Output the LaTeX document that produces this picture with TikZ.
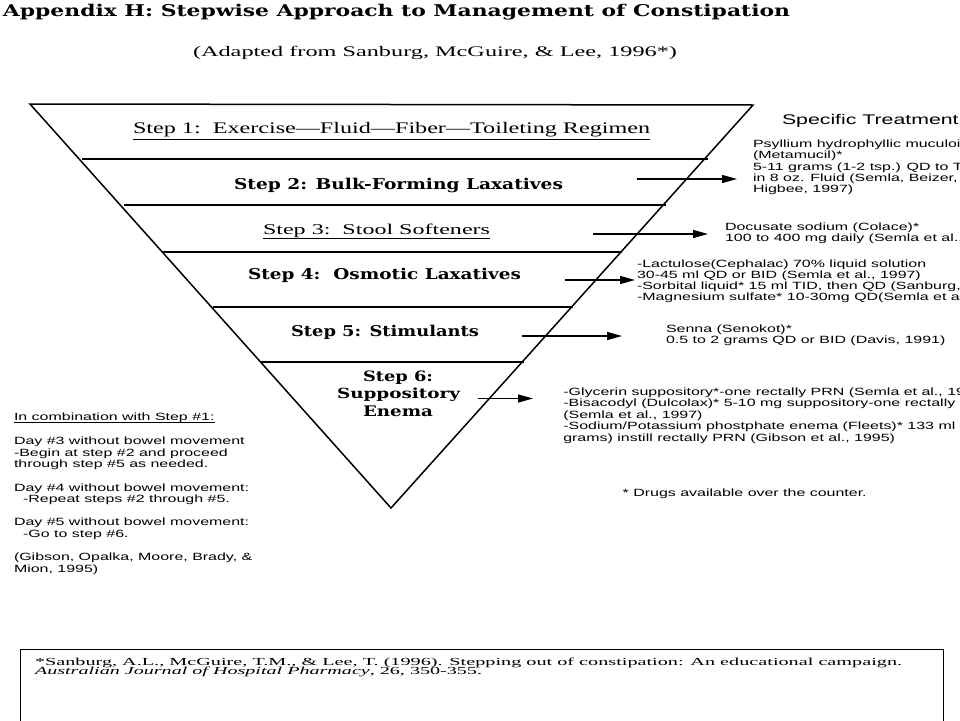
\documentclass[tikz,border=0pt]{standalone}
\usepackage{fontspec}
\setmainfont{Liberation Serif}
\setsansfont{Liberation Sans}
\newfontfamily\dejaserif{DejaVu Serif}
\usepackage{graphicx}
\usetikzlibrary{arrows.meta}
\newcommand\RB[3]{\resizebox{#1pt}{#2pt}{#3}}
\newcommand\SX[1]{\scalebox{1.52}[1]{#1}}
\newcommand\blk[1]{\SX{\begin{tabular}[t]{@{}l@{}}#1\end{tabular}}}
\begin{document}
\begin{tikzpicture}[x=1pt,y=-1pt,
  txt/.style={inner sep=0pt,outer sep=0pt,anchor=base west},
  edgeline/.style={line width=1.5pt},
  arr/.style={line width=1.3pt,-{Triangle[length=15pt,width=8pt]}},
  ar/.style={font=\sffamily\fontsize{10.5}{#1}\selectfont},
  ar/.default={11.4}
]
\fill[white] (0,0) rectangle (960,720);
\useasboundingbox (0,0) rectangle (960,720);

% inverted triangle
\coordinate (TL) at (30,104);
\coordinate (TR) at (753,105);
\coordinate (AP) at (391,508);
\draw[edgeline,line join=miter] (TL) -- (TR) -- (AP) -- cycle;
\draw[edgeline] (82,159) -- (708,159);
\draw[edgeline] (124,205) -- (666,205);
\draw[edgeline] (162,252) -- (622,252);
\draw[edgeline] (213,307) -- (573,307);
\draw[edgeline] (261,362) -- (524,362);

% title
\node[txt] (title) at (3,16.5) {\RB{787}{12.3}{\dejaserif\bfseries Appendix H: Stepwise Approach to Management of Constipation}};
\node[txt] (subtitle) at (193,56.7) {\RB{484}{10.3}{(Adapted from Sanburg, McGuire, \& Lee, 1996*)}};

% steps
\node[txt] (s1) at (133,133) {\RB{517}{11.2}{Step 1:\ \ Exercise—Fluid—Fiber—Toileting Regimen}};
\draw[line width=1pt] ([yshift=-6pt]s1.base west) -- ([yshift=-6pt]s1.base east);
\node[txt] (s2) at (234,189) {\RB{329}{11.3}{\dejaserif\bfseries Step 2: Bulk-Forming Laxatives}};
\node[txt] (s3) at (263,234) {\RB{227}{10.5}{Step 3:\ \ Stool Softeners}};
\draw[line width=1pt] ([yshift=-4.5pt]s3.base west) -- ([yshift=-4.5pt]s3.base east);
\node[txt] (s4) at (248,279) {\RB{273}{11.3}{\dejaserif\bfseries Step 4:\ \ Osmotic Laxatives}};
\node[txt] (s5) at (291,336) {\RB{188}{11.3}{\dejaserif\bfseries Step 5: Stimulants}};
\node[txt] (s6a) at (363,381.7) {\RB{70}{10.6}{\dejaserif\bfseries Step 6:}};
\node[txt] (s6b) at (337,398.3) {\RB{123}{10.6}{\dejaserif\bfseries Suppository}};
\node[txt] (s6c) at (363,416.7) {\RB{70}{10.6}{\dejaserif\bfseries Enema}};

% arrows
\coordinate (a1s) at (637,179); \coordinate (a1e) at (737,179);
\coordinate (a2s) at (593,234); \coordinate (a2e) at (708,234);
\coordinate (a3s) at (565,280); \coordinate (a3e) at (635,280);
\coordinate (a4s) at (522,336); \coordinate (a4e) at (622,336);
\coordinate (a5s) at (478,398.5); \coordinate (a5e) at (533,398.5);
\draw[arr] (a1s) -- (a1e);
\draw[arr] (a2s) -- (a2e);
\draw[arr] (a3s) -- (a3e);
\draw[arr] (a4s) -- (a4e);
\draw[arr] (a5s) -- (a5e);

% treatments
\node[txt,font=\sffamily\fontsize{14}{16}\selectfont] (spec) at (782,124.3) {\SX{Specific Treatment}};
\node[txt,ar=11.35] (psyl) at (753,147.3) {\blk{Psyllium hydrophyllic muculoid\\(Metamucil)*\\5-11 grams (1-2 tsp.) QD to T\\in 8 oz. Fluid (Semla, Beizer,\\Higbee, 1997)}};
\node[txt,ar=10.6] (docu) at (725,230.3) {\blk{Docusate sodium (Colace)*\\100 to 400 mg daily (Semla et al.,}};
\node[txt,ar=11.1] (lact) at (637,267.3) {\blk{-Lactulose(Cephalac) 70\% liquid solution\\30-45 ml QD or BID (Semla et al., 1997)\\-Sorbital liquid* 15 ml TID, then QD (Sanburg,\\-Magnesium sulfate* 10-30mg QD(Semla et al}};
\node[txt,ar=10.7] (senna) at (666,332.3) {\blk{Senna (Senokot)*\\0.5 to 2 grams QD or BID (Davis, 1991)}};
\node[txt,ar=11.5] (glyc) at (563.3,395) {\blk{-Glycerin suppository*-one rectally PRN (Semla et al., 19\\-Bisacodyl (Dulcolax)* 5-10 mg suppository-one rectally\\(Semla et al., 1997)\\-Sodium/Potassium phostphate enema (Fleets)* 133 ml\\grams) instill rectally PRN (Gibson et al., 1995)}};
\node[txt,ar] (otc) at (622.7,496.7) {\SX{* Drugs available over the counter.}};

% left notes
\node[txt,ar=11.3] (comb) at (14,420.7) {\SX{In combination with Step \#1:}};
\draw[line width=0.8pt] ([yshift=-2pt]comb.base west) -- ([yshift=-2pt]comb.base east);
\node[txt,ar=11.3] (days) at (14,444.7) {\blk{Day \#3 without bowel movement\\-Begin at step \#2 and proceed\\through step \#5 as needed.\\[12.7pt]Day \#4 without bowel movement:\\\hspace*{6pt}-Repeat steps \#2 through \#5.\\[12pt]Day \#5 without bowel movement:\\\hspace*{6pt}-Go to step \#6.\\[12.3pt](Gibson, Opalka, Moore, Brady, \&\\Mion, 1995)}};

% reference box
\draw[line width=1pt] (20,724) -- (20,649) -- (943,649) -- (943,724);
\node[txt] (ref1) at (35,665) {\RB{867}{7.6}{*Sanburg, A.L., McGuire, T.M., \& Lee, T. (1996). Stepping out of constipation: An educational campaign.}};
\node[txt] (ref2) at (35,674) {\RB{447}{7.6}{\textit{Australian Journal of Hospital Pharmacy}, 26, 350-355.}};
\end{tikzpicture}
\end{document}
